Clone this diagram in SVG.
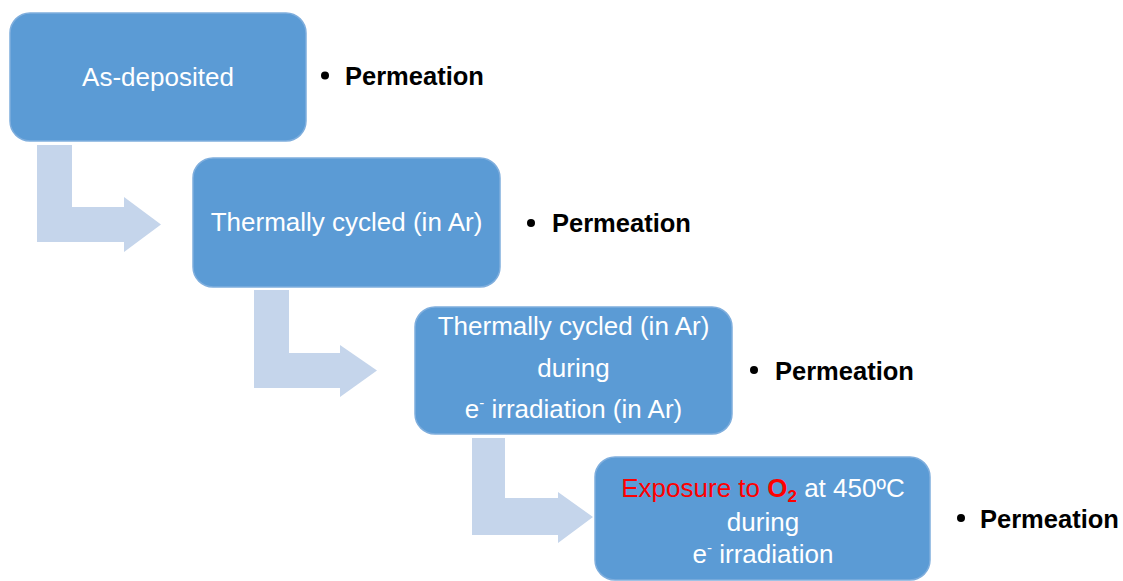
<svg xmlns="http://www.w3.org/2000/svg" width="1123" height="581" viewBox="0 0 1123 581">
<style>
.box{fill:#5B9BD5;stroke:#7FAEDD;stroke-width:1.5}
.arrow{fill:#C5D5EB}
.bt{font-family:"Liberation Sans",Arial,sans-serif;font-size:26px;fill:#FFFFFF;text-anchor:middle}
.pt{font-family:"Liberation Sans",Arial,sans-serif;font-size:25.5px;font-weight:bold;fill:#000000}
.red{fill:#FF0000}
</style>
<rect width="1123" height="581" fill="#FFFFFF"/>
<g id="connectors">
<polygon class="arrow" points="37,145 72,145 72,207 124,207 124,197 161,224.5 124,252 124,242 37,242"/>
<polygon class="arrow" points="254,290 289,290 289,353 340,353 340,345 377,370.5 340,397 340,388 254,388"/>
<polygon class="arrow" points="472,438 505,438 505,498 558,498 558,492 593,517 558,543 558,535 472,535"/>
</g>
<g id="node1">
<rect class="box" x="10" y="13" width="296" height="128" rx="20"/>
<text class="bt" x="158" y="86">As-deposited</text>
</g>
<g id="node2">
<rect class="box" x="193" y="158" width="307" height="129" rx="20"/>
<text class="bt" x="346.5" y="231">Thermally cycled (in Ar)</text>
</g>
<g id="node3">
<rect class="box" x="415" y="307" width="317" height="127" rx="20"/>
<text class="bt" x="573.5" y="335">Thermally cycled (in Ar)</text>
<text class="bt" x="573.5" y="377">during</text>
<text class="bt" x="573.5" y="418">e<tspan font-size="15" dy="-10">-</tspan><tspan dy="10"> irradiation (in Ar)</tspan></text>
</g>
<g id="node4">
<rect class="box" x="595" y="457" width="335" height="123" rx="20"/>
<text class="bt" x="763" y="497"><tspan class="red">Exposure to </tspan><tspan class="red" font-weight="bold">O</tspan><tspan class="red" font-weight="bold" font-size="17" dy="5">2</tspan><tspan dy="-5"> at 450ºC</tspan></text>
<text class="bt" x="763" y="531">during</text>
<text class="bt" x="763" y="563">e<tspan font-size="15" dy="-10">-</tspan><tspan dy="10"> irradiation</tspan></text>
</g>
<g id="label1">
<circle cx="325" cy="75.5" r="4"/>
<text class="pt" x="345" y="85">Permeation</text>
</g>
<g id="label2">
<circle cx="531" cy="223" r="4"/>
<text class="pt" x="552" y="232">Permeation</text>
</g>
<g id="label3">
<circle cx="754" cy="370" r="4"/>
<text class="pt" x="775" y="380">Permeation</text>
</g>
<g id="label4">
<circle cx="961" cy="518" r="4"/>
<text class="pt" x="980" y="528">Permeation</text>
</g>
</svg>
